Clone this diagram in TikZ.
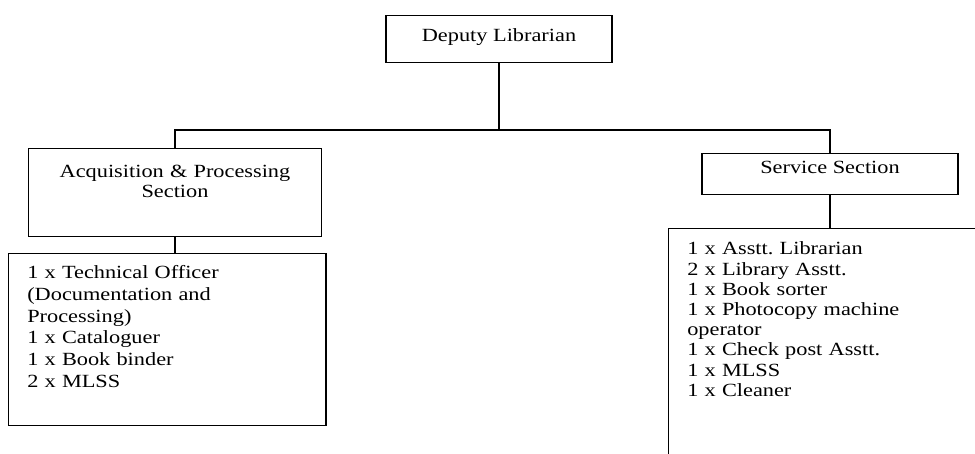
\documentclass[tikz,border=0pt]{standalone}
\usepackage{fontspec}
\setmainfont{Liberation Serif}[FakeStretch=1.2]
\usetikzlibrary{positioning}
\frenchspacing

\begin{document}
\begin{tikzpicture}[x=1pt,y=-1pt,line width=1.2pt,
    unit node/.style={draw,rectangle,inner ysep=0pt,align=center,anchor=north,
      font=\fontsize{18.6}{20}\selectfont},
    staff node/.style={draw,rectangle,inner ysep=0pt,inner xsep=18.7pt,align=left,
      anchor=north west}]

\useasboundingbox (0,0) rectangle (975,454);
\clip (0,0) rectangle (975,454);

\node[unit node, minimum width=226pt, text height=26pt, text depth=21pt] (dl) at (499,15) {Deputy Librarian};
\node[unit node, minimum width=293pt, text width=270pt, text height=28.7pt, text depth=59.3pt] (acq) at (175,148) {Acquisition \& Processing\\Section};
\node[unit node, minimum width=256pt, text height=19.7pt, text depth=21.3pt] (svc) at (830,153) {Service Section};

\node[staff node, text width=280pt, text height=25.3pt, text depth=146.7pt,
  font=\fontsize{18.6}{21.7}\selectfont] (acqstaff) at (8,253)
  {1 x Technical Officer\\(Documentation and\\Processing)\\1 x Cataloguer\\1 x Book binder\\2 x MLSS};
\node[staff node, text width=283pt, text height=26.3pt, text depth=214pt,
  font=\fontsize{18.6}{20.2}\selectfont] (svcstaff) at (668,228)
  {1 x Asstt. Librarian\\2 x Library Asstt.\\1 x Book sorter\\1 x Photocopy machine\\operator\\1 x Check post Asstt.\\1 x MLSS\\1 x Cleaner};

\coordinate (bus) at (499,130);
\draw (dl.south) -- (bus);
\draw (acq.north) |- (bus) -| (svc.north);
\draw (acq.south) -- (acq.south |- acqstaff.north);
\draw (svc.south) -- (svc.south |- svcstaff.north);

\end{tikzpicture}
\end{document}
